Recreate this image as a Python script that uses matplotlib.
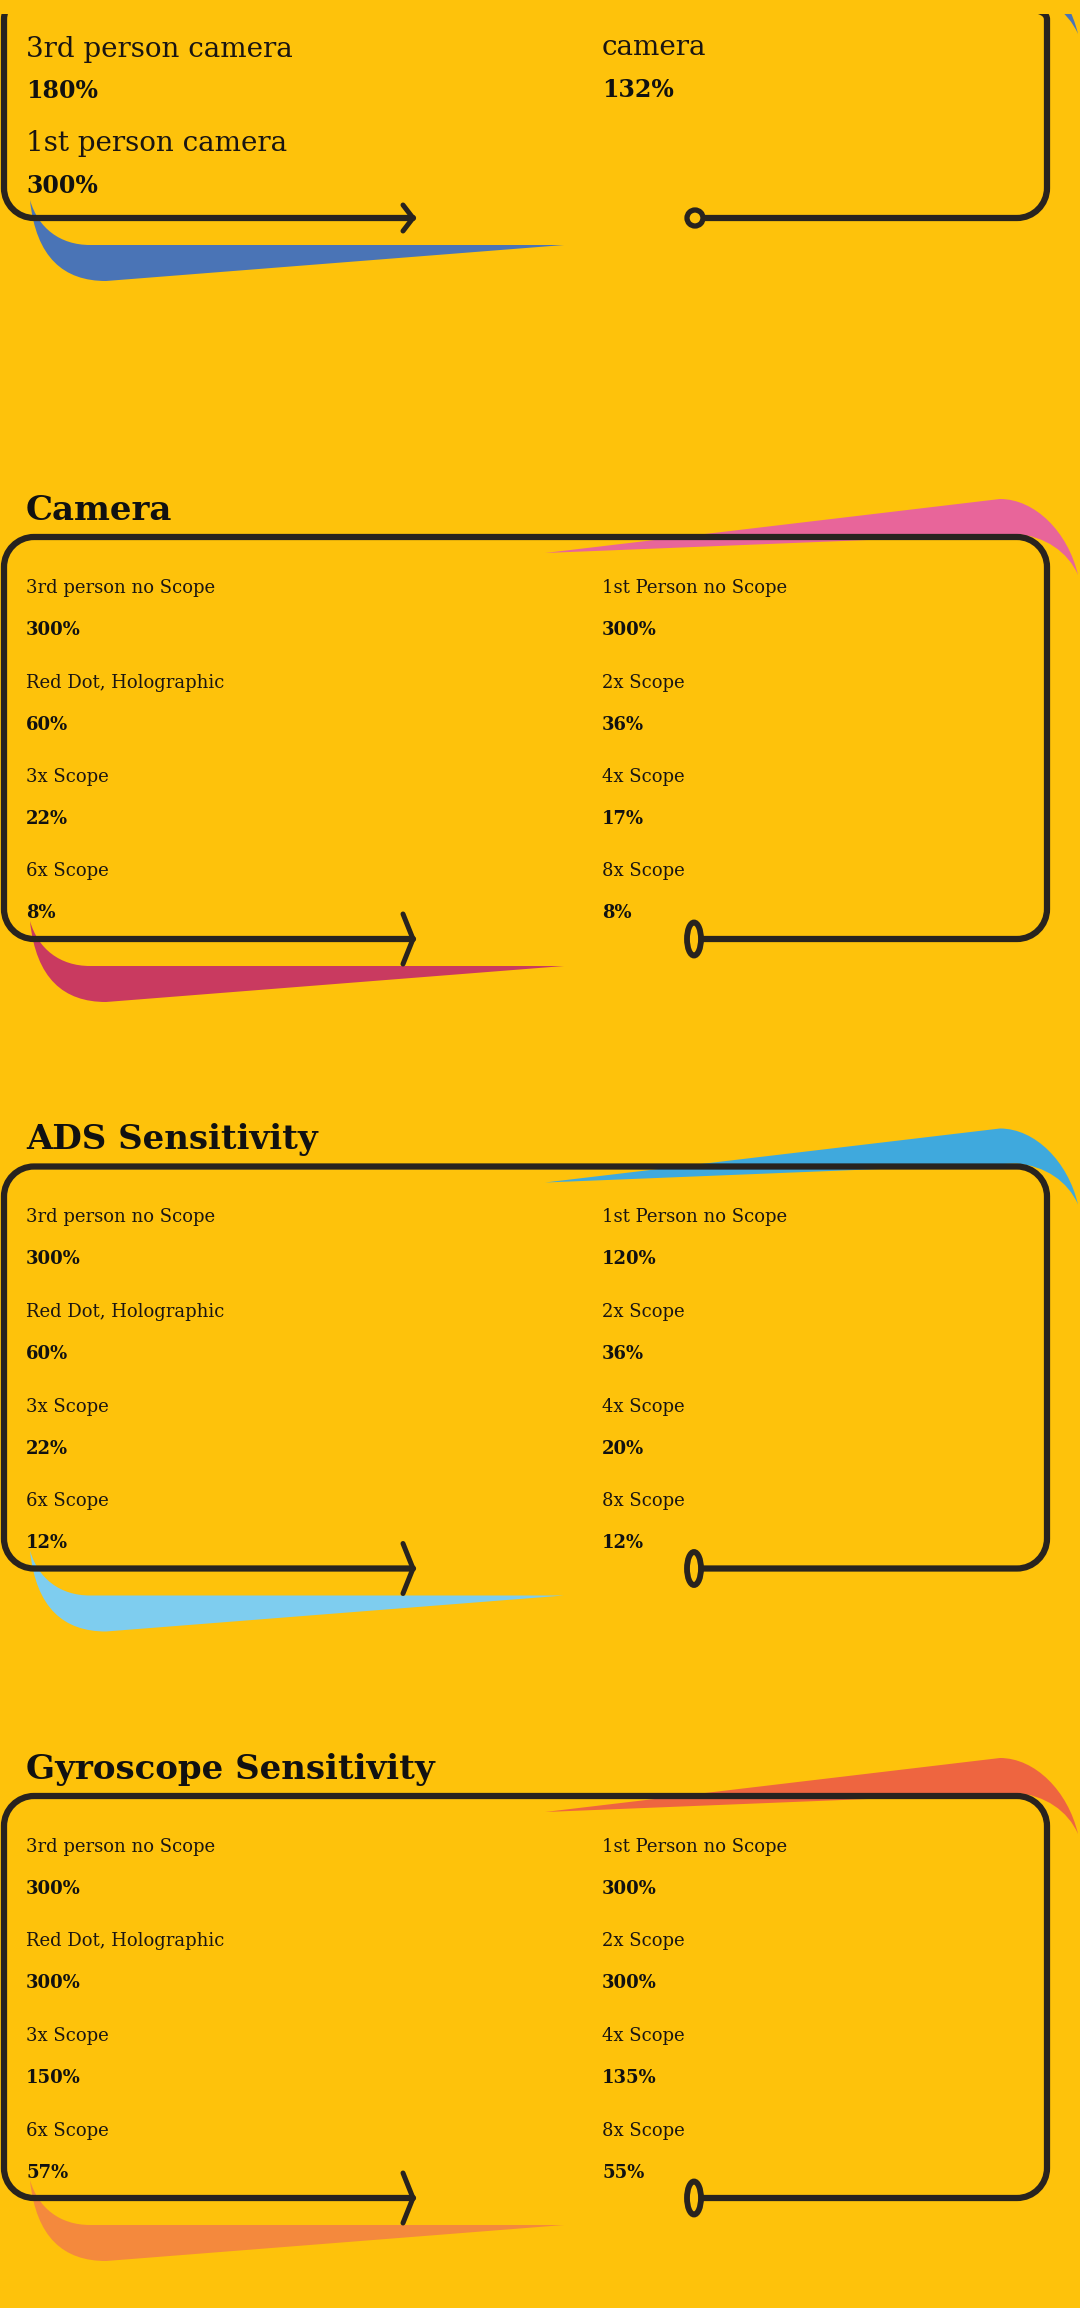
import matplotlib
matplotlib.use("Agg")
import matplotlib.pyplot as plt
from matplotlib.path import Path
from matplotlib.patches import PathPatch, Ellipse, Rectangle

# ---------------- data ----------------
top_left_labels = ["3rd person camera", "1st person camera"]
top_left_values = [180, 300]
top_right_labels = ["camera"]
top_right_values = [132]

section_titles = ["Camera", "ADS Sensitivity", "Gyroscope Sensitivity"]
left_labels = ["3rd person no Scope", "Red Dot, Holographic", "3x Scope", "6x Scope"]
right_labels = ["1st Person no Scope", "2x Scope", "4x Scope", "8x Scope"]
camera_left = [300, 60, 22, 8]
camera_right = [300, 36, 17, 8]
ads_left = [300, 60, 22, 12]
ads_right = [120, 36, 20, 12]
gyro_left = [300, 300, 150, 57]
gyro_right = [300, 300, 135, 55]
section_left = [camera_left, ads_left, gyro_left]
section_right = [camera_right, ads_right, gyro_right]

# ---------------- style ----------------
BG = "#FEC20B"
INK = "#28231f"
TOP_SWOOSH = ["#4A74B6", "#E8659A", "#3FA9DD", "#EE6540"]
BOT_SWOOSH = ["#4A74B6", "#C93A60", "#7ECDEF", "#F4893D"]
SERIF = ["DejaVu Serif"]

W, H = 1080, 2308
fig = plt.figure(figsize=(W / 100, H / 100), dpi=100, facecolor=BG)
ax = fig.add_axes([0, 0, 1, 1])
ax.set_xlim(0, W)
ax.set_ylim(H, 0)
ax.axis("off")
ax.set_facecolor(BG)

LEFT, RIGHT = 4, 1047
R = 30
K = 0.5523
ARROW_X = 413
COL_L, COL_R = 26, 602
LW = 4.5


def box(t, b, gap_right):
    v = [(ARROW_X, b), (LEFT + R, b),
         (LEFT + R - K * R, b), (LEFT, b - R + K * R), (LEFT, b - R),
         (LEFT, t + R),
         (LEFT, t + R - K * R), (LEFT + R - K * R, t), (LEFT + R, t),
         (RIGHT - R, t),
         (RIGHT - R + K * R, t), (RIGHT, t + R - K * R), (RIGHT, t + R),
         (RIGHT, b - R),
         (RIGHT, b - R + K * R), (RIGHT - R + K * R, b), (RIGHT - R, b),
         (gap_right, b)]
    c = [Path.MOVETO, Path.LINETO,
         Path.CURVE4, Path.CURVE4, Path.CURVE4,
         Path.LINETO,
         Path.CURVE4, Path.CURVE4, Path.CURVE4,
         Path.LINETO,
         Path.CURVE4, Path.CURVE4, Path.CURVE4,
         Path.LINETO,
         Path.CURVE4, Path.CURVE4, Path.CURVE4,
         Path.LINETO]
    ax.add_patch(PathPatch(Path(v, c), fill=False, edgecolor=INK, lw=LW,
                           capstyle="round", joinstyle="round", zorder=3))


def chevron(b, half):
    v = [(ARROW_X - 10, b - half), (ARROW_X, b), (ARROW_X - 10, b + half)]
    ax.add_patch(PathPatch(Path(v, [Path.MOVETO, Path.LINETO, Path.LINETO]),
                           fill=False, edgecolor=INK, lw=3.6,
                           capstyle="round", joinstyle="round", zorder=3))


def swoosh_bottom(b, color):
    v = [(30, b - 18),
         (36, b + 40), (64, b + 63), (106, b + 63),
         (564, b + 27),
         (90, b + 27),
         (60, b + 27), (38, b + 10), (30, b - 18),
         (30, b - 18)]
    c = [Path.MOVETO,
         Path.CURVE4, Path.CURVE4, Path.CURVE4,
         Path.LINETO, Path.LINETO,
         Path.CURVE4, Path.CURVE4, Path.CURVE4,
         Path.CLOSEPOLY]
    ax.add_patch(PathPatch(Path(v, c), facecolor=color, edgecolor="none", zorder=2))


def swoosh_top(t, color):
    v = [(545, t + 16),
         (1000, t - 38),
         (1035, t - 38), (1068, t - 5), (1078, t + 38),
         (1068, t + 15), (1045, t - 1), (1016, t - 3),
         (545, t + 16)]
    c = [Path.MOVETO, Path.LINETO,
         Path.CURVE4, Path.CURVE4, Path.CURVE4,
         Path.CURVE4, Path.CURVE4, Path.CURVE4,
         Path.CLOSEPOLY]
    ax.add_patch(PathPatch(Path(v, c), facecolor=color, edgecolor="none", zorder=2))


def label(x, y, s, size):
    ax.text(x, y, s, fontsize=size, family=SERIF, color="#1a1512",
            va="baseline", ha="left", zorder=4)


def value(x, y, v, size):
    ax.text(x, y, f"{v}%", fontsize=size, family=SERIF, fontweight="bold",
            color="#111111", va="baseline", ha="left", zorder=4)


# ---------------- top (partial) panel ----------------
t0, b0 = -10, 218
swoosh_top(-4, TOP_SWOOSH[0])
swoosh_bottom(b0, BOT_SWOOSH[0])
box(t0, b0, 704)
chevron(b0, 13)
ax.add_patch(Ellipse((695, b0), 16, 16, fill=False, edgecolor=INK, lw=3.8, zorder=3))
for i, (lab, val) in enumerate(zip(top_left_labels, top_left_values)):
    label(COL_L, 57 + 94 * i, lab, 20)
    value(COL_L, 98 + 95 * i, val, 17)
for i, (lab, val) in enumerate(zip(top_right_labels, top_right_values)):
    label(COL_R, 55 + 94 * i, lab, 20)
    value(COL_R, 97 + 95 * i, val, 17)
ax.add_patch(Rectangle((0, 0), W, 14, facecolor=BG, edgecolor="none", zorder=5))

# ---------------- sections ----------------
tops = [537, 1166.5, 1796]
HEIGHT = 402
STEP = 94.5
for k, (title, lv, rv) in enumerate(zip(section_titles, section_left, section_right)):
    t = tops[k]
    b = t + HEIGHT
    ax.text(COL_L, t - 17, title, fontsize=24.5, family=SERIF, fontweight="bold",
            color="#111111", va="baseline", ha="left", zorder=4)
    swoosh_top(t, TOP_SWOOSH[k + 1])
    swoosh_bottom(b, BOT_SWOOSH[k + 1])
    box(t, b, 703)
    chevron(b, 25)
    ax.add_patch(Ellipse((694, b), 14, 33, fill=False, edgecolor=INK, lw=4.2, zorder=3))
    for i in range(4):
        label(COL_L, t + 56 + STEP * i, left_labels[i], 13)
        value(COL_L, t + 98 + STEP * i, lv[i], 13)
        label(COL_R, t + 56 + STEP * i, right_labels[i], 13)
        value(COL_R, t + 98 + STEP * i, rv[i], 13)

fig.savefig("out.png", dpi=100, facecolor=BG)
